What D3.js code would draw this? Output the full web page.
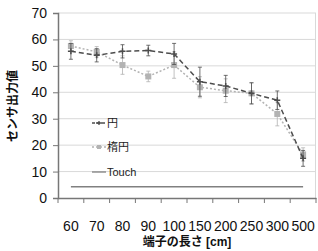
<!DOCTYPE html>
<html>
<head>
<meta charset="utf-8">
<script src="https://cdn.jsdelivr.net/npm/d3@7"></script>
<style>
body { margin: 0; background: #fff; }
svg { font-family: "Liberation Sans", "Noto Sans CJK JP", sans-serif; }
</style>
</head>
<body>
<div id="chart"></div>
<script>
// categorias del eje X
var categorias = ["60", "70", "80", "90", "100", "150", "200", "250", "300", "500"];
// series
var valoresEn = [55.5, 54, 55.5, 55.8, 54.5, 44, 42.4, 39.6, 37, 15];
var erroresEn = [3, 2.5, 2.5, 2, 4, 5.5, 4, 4, 3.5, 3];
var valoresElipse = [57.5, 55.3, 50.3, 46, 50.3, 41.9, 40.6, 39.6, 31.8, 16.5];
var erroresElipse = [2, 2, 3.5, 2, 5, 4, 4.5, 4, 4.5, 2.5];
var valorTouch = 4.3;
var ticksY = [0, 10, 20, 30, 40, 50, 60, 70];

var margin = { top: 13, right: 2, bottom: 53, left: 58 },
    width = 318 - margin.left - margin.right,
    height = 251 - margin.top - margin.bottom;

var svg = d3.select("#chart").append("svg")
    .attr("width", 318)
    .attr("height", 251)
    .append("g")
    .attr("transform", "translate(" + margin.left + "," + margin.top + ")");

var x = d3.scaleBand().domain(categorias).range([0, width]);
var y = d3.scaleLinear().domain([0, 70]).range([height, 0]);

// grid
svg.selectAll(".grid")
    .data(ticksY.slice(1))
    .enter().append("line")
    .attr("x1", 0).attr("x2", width)
    .attr("y1", function (d) { return y(d); })
    .attr("y2", function (d) { return y(d); })
    .attr("stroke", "#d9d9d9").attr("stroke-width", 1);

// borde derecho
svg.append("line")
    .attr("x1", width - 0.5).attr("x2", width - 0.5)
    .attr("y1", 0).attr("y2", height)
    .attr("stroke", "#d9d9d9");

// eje Y
var ejeY = svg.append("g")
    .call(d3.axisLeft(y).tickValues(ticksY).tickSize(5).tickPadding(6));
ejeY.select(".domain").attr("stroke", "#777").attr("stroke-width", 1.5);
ejeY.selectAll(".tick line").attr("stroke", "#777");
ejeY.selectAll("text").style("font-size", "14px").attr("fill", "#111");

// eje X
var ejeX = svg.append("g")
    .attr("transform", "translate(0," + height + ")")
    .call(d3.axisBottom(x).tickSize(0).tickPadding(23));
ejeX.select(".domain").attr("stroke", "#777").attr("stroke-width", 1.5);
ejeX.selectAll("text").style("font-size", "14px").attr("fill", "#111");
ejeX.selectAll(".sep")
    .data(categorias)
    .enter().append("line")
    .attr("x1", function (d) { return x(d) + x.bandwidth(); })
    .attr("x2", function (d) { return x(d) + x.bandwidth(); })
    .attr("y1", 0).attr("y2", 5)
    .attr("stroke", "#777");
ejeX.append("line").attr("x1", 0).attr("x2", 0).attr("y1", 0).attr("y2", 5).attr("stroke", "#777");

var cx = function (d, i) { return x(categorias[i]) + x.bandwidth() / 2; };

// linea Touch
svg.append("line")
    .attr("x1", x(categorias[0]) + x.bandwidth() / 2)
    .attr("x2", x(categorias[categorias.length - 1]) + x.bandwidth() / 2)
    .attr("y1", y(valorTouch)).attr("y2", y(valorTouch))
    .attr("stroke", "#808080").attr("stroke-width", 1.5);

function dibujarSerie(valores, errores, color, dash, marcador) {
    var g = svg.append("g");
    g.selectAll(".err")
        .data(valores)
        .enter().append("path")
        .attr("d", function (d, i) {
            var px = cx(d, i), y1 = y(d + errores[i]), y2 = y(d - errores[i]);
            return "M" + px + "," + y1 + "V" + y2 +
                "M" + (px - 2) + "," + y1 + "H" + (px + 2) +
                "M" + (px - 2) + "," + y2 + "H" + (px + 2);
        })
        .attr("stroke", color).attr("stroke-width", 0.8).attr("fill", "none");
    g.append("path")
        .datum(valores)
        .attr("d", d3.line().x(cx).y(function (d) { return y(d); }))
        .attr("fill", "none").attr("stroke", color)
        .attr("stroke-width", 1.5).attr("stroke-dasharray", dash);
    if (marcador === "cuadrado") {
        g.selectAll(".m")
            .data(valores)
            .enter().append("rect")
            .attr("x", function (d, i) { return cx(d, i) - 3; })
            .attr("y", function (d) { return y(d) - 3; })
            .attr("width", 6).attr("height", 6)
            .attr("fill", color);
    } else {
        g.selectAll(".m")
            .data(valores)
            .enter().append("path")
            .attr("d", function (d, i) {
                var px = cx(d, i), py = y(d);
                return "M" + (px - 3) + "," + py + "H" + (px + 3) + "M" + px + "," + (py - 3) + "V" + (py + 3);
            })
            .attr("stroke", color).attr("stroke-width", 1.5);
    }
}

dibujarSerie(valoresElipse, erroresElipse, "#b3b3b3", "2,2", "cuadrado");
dibujarSerie(valoresEn, erroresEn, "#4d4d4d", "5,3", "cruz");

// leyenda
var leyenda = [
    { nombre: "円", color: "#4d4d4d", dash: "3,2", marcador: "cruz", yy: 123 },
    { nombre: "楕円", color: "#b3b3b3", dash: "2,2", marcador: "cuadrado", yy: 147 },
    { nombre: "Touch", color: "#808080", dash: null, marcador: null, yy: 172 }
];
var sl = d3.select("svg");
leyenda.forEach(function (l) {
    sl.append("line")
        .attr("x1", 92).attr("x2", 106)
        .attr("y1", l.yy).attr("y2", l.yy)
        .attr("stroke", l.color).attr("stroke-width", 1.3)
        .attr("stroke-dasharray", l.dash);
    if (l.marcador === "cuadrado") {
        sl.append("rect").attr("x", 97).attr("y", l.yy - 2).attr("width", 4).attr("height", 4).attr("fill", l.color);
    } else if (l.marcador === "cruz") {
        sl.append("path").attr("d", "M96," + l.yy + "H102M99," + (l.yy - 2) + "V" + (l.yy + 2))
            .attr("stroke", l.color).attr("stroke-width", 1.3);
    }
    sl.append("text")
        .attr("x", 107).attr("y", l.yy + 4)
        .style("font-size", "11px").attr("fill", "#222")
        .text(l.nombre);
});

// titulos
sl.append("text")
    .attr("transform", "translate(17,106) rotate(-90)")
    .attr("text-anchor", "middle")
    .style("font-size", "12px").style("font-weight", "bold")
    .attr("fill", "#111")
    .text("センサ出力値");
sl.append("text")
    .attr("x", 187).attr("y", 246)
    .attr("text-anchor", "middle")
    .style("font-size", "12px").style("font-weight", "bold")
    .attr("fill", "#111")
    .text("端子の長さ [cm]");
</script>
</body>
</html>
